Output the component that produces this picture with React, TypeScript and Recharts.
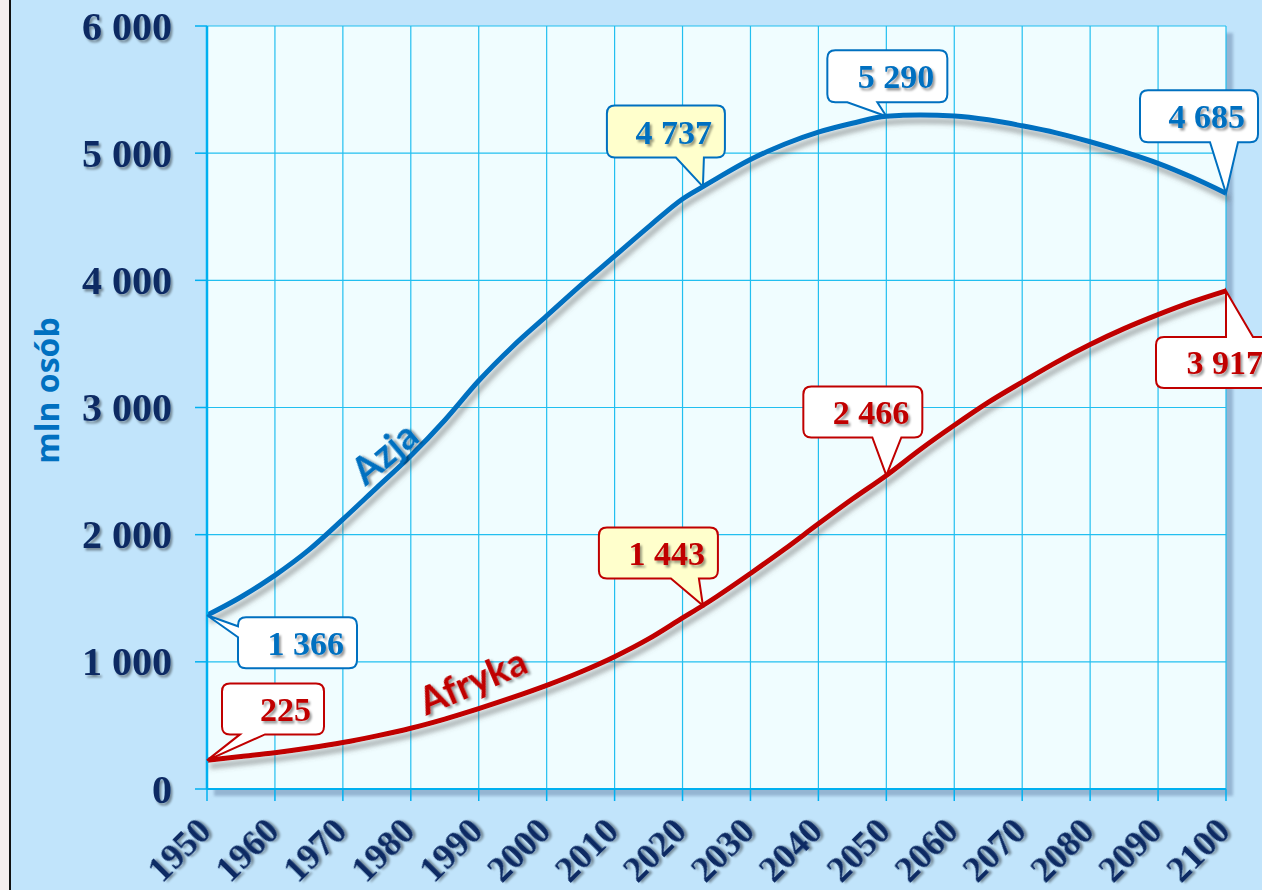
import React from 'react';
import { LineChart, Line, XAxis, YAxis, CartesianGrid, ReferenceDot, ReferenceArea } from 'recharts';

const years = [1950, 1955, 1960, 1965, 1970, 1975, 1980, 1985, 1990, 1995, 2000, 2005, 2010, 2015, 2020, 2023, 2025, 2030, 2035, 2040, 2045, 2050, 2055, 2060, 2065, 2070, 2075, 2080, 2085, 2090, 2095, 2100];
const azja = [1366, 1510, 1680, 1880, 2120, 2370, 2620, 2900, 3210, 3480, 3720, 3960, 4190, 4420, 4640, 4737, 4800, 4950, 5070, 5165, 5235, 5290, 5300, 5292, 5262, 5215, 5160, 5090, 5010, 4920, 4810, 4685];
const afryka = [225, 255, 285, 322, 365, 418, 478, 550, 632, 720, 815, 920, 1040, 1180, 1345, 1443, 1512, 1695, 1885, 2085, 2280, 2466, 2670, 2860, 3040, 3200, 3355, 3495, 3620, 3730, 3830, 3917];

const xTicks = [1950, 1960, 1970, 1980, 1990, 2000, 2010, 2020, 2030, 2040, 2050, 2060, 2070, 2080, 2090, 2100];
const yTicks = [0, 1000, 2000, 3000, 4000, 5000, 6000];

const calloutYears = [1950, 2023, 2050, 2100];

const BLUE = '#0070c0';
const RED = '#c00000';
const NAVY = '#0b2a63';
const GRID = '#22bff0';

const data = years.map((year, i) => ({ year, azja: azja[i], afryka: afryka[i] }));

// box placement relative to the data point: dx, dy, w, h, pointer side and base
const boxStyle: Record<string, any> = {
  'azja-1950': { dx: 31, dy: 2, w: 119, h: 51, side: 'left', b1: 9, b2: 20, bg: '#ffffff' },
  'azja-2023': { dx: -96, dy: -81, w: 118, h: 52, side: 'bottom', b1: 69, b2: 97, bg: '#ffffcc' },
  'azja-2050': { dx: -59, dy: -66, w: 120, h: 52, side: 'bottom', b1: 20, b2: 50, bg: '#ffffff' },
  'azja-2100': { dx: -86, dy: -103, w: 118, h: 52, side: 'bottom', b1: 70, b2: 98, bg: '#ffffff' },
  'afryka-1950': { dx: 15, dy: -77, w: 102, h: 51, side: 'bottom', b1: 18, b2: 43, bg: '#ffffff' },
  'afryka-2023': { dx: -104, dy: -78, w: 119, h: 51, side: 'bottom', b1: 72, b2: 100, bg: '#ffffcc' },
  'afryka-2050': { dx: -83, dy: -89, w: 119, h: 51, side: 'bottom', b1: 69, b2: 98, bg: '#ffffff' },
  'afryka-2100': { dx: -70, dy: 46, w: 120, h: 51, side: 'top', b1: 70, b2: 97, bg: '#ffffff' },
};

const fmt = (n: number) => String(n).replace(/\B(?=(\d{3})+(?!\d))/g, ' ');

function boxPath(x: number, y: number, w: number, h: number, side: string, b1: number, b2: number, tx: number, ty: number) {
  const r = 8;
  const R = x + w;
  const B = y + h;
  let d = `M${x + r},${y}`;
  if (side === 'top') d += ` H${x + b1} L${tx},${ty} L${x + b2},${y}`;
  d += ` H${R - r} Q${R},${y} ${R},${y + r} V${B - r} Q${R},${B} ${R - r},${B}`;
  if (side === 'bottom') d += ` H${x + b2} L${tx},${ty} L${x + b1},${B}`;
  d += ` H${x + r} Q${x},${B} ${x},${B - r}`;
  if (side === 'left') d += ` V${y + b2} L${tx},${ty} L${x},${y + b1}`;
  d += ` V${y + r} Q${x},${y} ${x + r},${y} Z`;
  return d;
}

const makeCallout = (key: string, text: string, color: string) => (props: any) => {
  const vb = props.viewBox || {};
  const tx = vb.x + (vb.width || 0) / 2;
  const ty = vb.y + (vb.height || 0) / 2;
  const s = boxStyle[key];
  const x = tx + s.dx;
  const y = ty + s.dy;
  return (
    <g>
      <path d={boxPath(x, y, s.w, s.h, s.side, s.b1, s.b2, tx, ty)} fill={s.bg} stroke={color} strokeWidth={2} />
      <text
        x={x + s.w - 13}
        y={y + s.h / 2 + 12}
        textAnchor="end"
        fill={color}
        fontSize={34}
        fontWeight="bold"
        fontFamily="'Liberation Serif', serif"
        filter="url(#txtShadow)"
      >
        {text}
      </text>
    </g>
  );
};

const makeSeriesLabel = (text: string, angle: number, color: string) => (props: any) => {
  const vb = props.viewBox || {};
  const x = vb.x + (vb.width || 0) / 2;
  const y = vb.y + (vb.height || 0) / 2;
  return (
    <text
      x={x}
      y={y}
      textAnchor="middle"
      dominantBaseline="central"
      transform={`rotate(${angle}, ${x}, ${y})`}
      fill={color}
      fontSize={38}
      fontWeight="bold"
      fontFamily="Lato, 'Open Sans', sans-serif"
      filter="url(#txtShadow)"
    >
      {text}
    </text>
  );
};

const XTick = (props: any) => {
  const { x, y, payload } = props;
  const ax = x + 6;
  const ay = y + 32;
  return (
    <text
      x={ax}
      y={ay}
      transform={`rotate(-45, ${ax}, ${ay})`}
      textAnchor="end"
      fill={NAVY}
      fontSize={36}
      fontWeight="bold"
      fontFamily="'Liberation Serif', serif"
      filter="url(#txtShadow)"
    >
      {payload.value}
    </text>
  );
};

const YTick = (props: any) => {
  const { x, y, payload } = props;
  return (
    <text
      x={x}
      y={y}
      dy="0.34em"
      textAnchor="end"
      fill={NAVY}
      fontSize={40}
      fontWeight="bold"
      fontFamily="'Liberation Serif', serif"
      filter="url(#txtShadow)"
    >
      {fmt(payload.value)}
    </text>
  );
};

const YLabel = (props: any) => {
  const vb = props.viewBox || {};
  const x = vb.x + 46;
  const y = vb.y + vb.height / 2 - 17;
  return (
    <text
      x={x}
      y={y}
      transform={`rotate(-90, ${x}, ${y})`}
      textAnchor="middle"
      dominantBaseline="central"
      fill={BLUE}
      fontSize={32}
      fontWeight="bold"
      fontFamily="'Open Sans', sans-serif"
    >
      mln osób
    </text>
  );
};

export default function App() {
  const valueAt = (arr: number[], year: number) => arr[years.indexOf(year)];
  return (
    <div style={{ position: 'absolute', left: 0, top: 0, width: 1262, height: 890, overflow: 'hidden', background: '#c1e4fb' }}>
      <div style={{ position: 'absolute', left: 0, top: 0, width: 9, height: 890, background: '#f5eeee' }} />
      <div style={{ position: 'absolute', left: 9, top: 0, width: 2, height: 890, background: '#111' }} />
      <svg width={0} height={0} style={{ position: 'absolute' }}>
        <defs>
          <filter id="txtShadow" x="-20%" y="-20%" width="140%" height="140%">
            <feDropShadow dx="2" dy="2.5" stdDeviation="1.2" floodColor="#000" floodOpacity="0.4" />
          </filter>
          <filter id="lineShadow" x="-10%" y="-10%" width="120%" height="130%">
            <feDropShadow dx="3" dy="6" stdDeviation="2.4" floodColor="#555" floodOpacity="0.5" />
          </filter>
          <filter id="plotShadow" x="-5%" y="-5%" width="110%" height="110%">
            <feDropShadow dx="7" dy="7" stdDeviation="1.5" floodColor="#6f8fb0" floodOpacity="0.55" />
          </filter>
        </defs>
      </svg>
      <div style={{ position: 'absolute', left: 0, top: 0 }}>
        <LineChart width={1262} height={890} data={data} margin={{ top: 26, right: 36, bottom: 0, left: 0 }}>
          <ReferenceArea
            x1={1950}
            x2={2100}
            y1={0}
            y2={6000}
            fill="#f0fdff"
            fillOpacity={1}
            stroke="none"
            filter="url(#plotShadow)"
            zIndex={-200}
          />
          <CartesianGrid stroke={GRID} strokeWidth={1.2} />
          <XAxis
            dataKey="year"
            type="number"
            domain={[1950, 2100]}
            ticks={xTicks}
            interval={0}
            height={101}
            tickSize={12}
            tickMargin={0}
            axisLine={{ stroke: '#00b0f0', strokeWidth: 2 }}
            tickLine={{ stroke: '#00b0f0', strokeWidth: 1.5 }}
            tick={<XTick />}
          />
          <YAxis
            type="number"
            domain={[0, 6000]}
            ticks={yTicks}
            interval={0}
            width={207}
            tickSize={12}
            tickMargin={23}
            axisLine={{ stroke: '#00b0f0', strokeWidth: 2.5 }}
            tickLine={{ stroke: '#00b0f0', strokeWidth: 1.5 }}
            tick={<YTick />}
            label={<YLabel />}
          />
          <Line
            type="monotone"
            dataKey="azja"
            stroke={BLUE}
            strokeWidth={5}
            dot={false}
            activeDot={false}
            isAnimationActive={false}
            filter="url(#lineShadow)"
          />
          <Line
            type="monotone"
            dataKey="afryka"
            stroke={RED}
            strokeWidth={5}
            dot={false}
            activeDot={false}
            isAnimationActive={false}
            filter="url(#lineShadow)"
          />
          <ReferenceDot x={1976} y={2650} r={0} stroke="none" label={makeSeriesLabel('Azja', -40, BLUE)} />
          <ReferenceDot x={1989} y={860} r={0} stroke="none" label={makeSeriesLabel('Afryka', -23, RED)} />
          {calloutYears.map((yr) => (
            <ReferenceDot
              key={`azja-${yr}`}
              x={yr}
              y={valueAt(azja, yr)}
              r={0}
              stroke="none"
              ifOverflow="visible"
              label={makeCallout(`azja-${yr}`, fmt(valueAt(azja, yr)), BLUE)}
            />
          ))}
          {calloutYears.map((yr) => (
            <ReferenceDot
              key={`afryka-${yr}`}
              x={yr}
              y={valueAt(afryka, yr)}
              r={0}
              stroke="none"
              ifOverflow="visible"
              label={makeCallout(`afryka-${yr}`, fmt(valueAt(afryka, yr)), RED)}
            />
          ))}
        </LineChart>
      </div>
    </div>
  );
}
